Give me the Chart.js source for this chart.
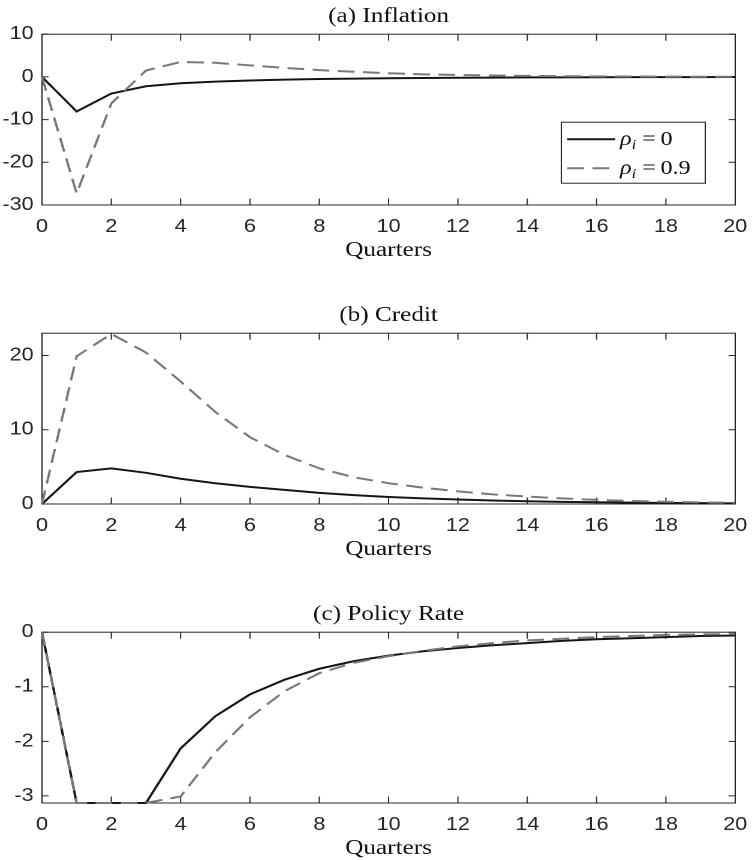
<!DOCTYPE html>
<html>
<head>
<meta charset="utf-8">
<script src="https://cdn.jsdelivr.net/npm/chart.js@4.4.1/dist/chart.umd.min.js"></script>
<style>
    body { margin: 0; background: #fff; width: 752px; height: 860px; overflow: hidden; position: relative; }
    canvas { position: absolute; left: 0; }
</style>
</head>
<body>
<!-- the canvases are drawn 627 wide and stretched to 752 (the figure is wider than tall) -->
<canvas id="inflation" width="627" height="266" style="top:0px;width:752px;height:266px"></canvas>
<canvas id="credit" width="627" height="266" style="top:299px;width:752px;height:266px"></canvas>
<canvas id="policy" width="627" height="266" style="top:598px;width:752px;height:266px"></canvas>
<script>
// 四半期
const quarters = [0, 1, 2, 3, 4, 5, 6, 7, 8, 9, 10, 11, 12, 13, 14, 15, 16, 17, 18, 19, 20];
const xTickValues = [0, 2, 4, 6, 8, 10, 12, 14, 16, 18, 20];

// (a) Inflation
const inflationRho0 = [0, -8.1, -3.9, -2.2, -1.5, -1.1, -0.85, -0.65, -0.5, -0.4, -0.32, -0.25, -0.2, -0.16, -0.12, -0.1, -0.08, -0.06, -0.05, -0.04, -0.03];
const inflationRho09 = [0, -27.3, -6.2, 1.5, 3.5, 3.3, 2.7, 2.1, 1.6, 1.2, 0.85, 0.6, 0.45, 0.33, 0.24, 0.17, 0.12, 0.09, 0.06, 0.04, 0.03];
const inflationTicks = [-30, -20, -10, 0, 10];

// (b) Credit
const creditRho0 = [0, 4.3, 4.8, 4.2, 3.4, 2.8, 2.3, 1.9, 1.5, 1.2, 0.95, 0.75, 0.6, 0.47, 0.37, 0.29, 0.23, 0.18, 0.14, 0.11, 0.09];
const creditRho09 = [0, 19.9, 22.9, 20.4, 16.5, 12.4, 9.0, 6.6, 4.8, 3.6, 2.8, 2.2, 1.7, 1.3, 1.0, 0.75, 0.55, 0.4, 0.3, 0.22, 0.16];
const creditTicks = [0, 10, 20];

// (c) Policy Rate
const policyRho0 = [0, -3.13, -3.13, -3.13, -2.13, -1.54, -1.14, -0.87, -0.67, -0.53, -0.43, -0.35, -0.29, -0.24, -0.2, -0.16, -0.13, -0.11, -0.09, -0.07, -0.06];
const policyRho09 = [0, -3.13, -3.13, -3.13, -3.01, -2.2, -1.56, -1.08, -0.75, -0.56, -0.44, -0.34, -0.26, -0.2, -0.15, -0.12, -0.09, -0.07, -0.05, -0.04, -0.03];
const policyTicks = [-3, -2, -1, 0];

const legendValues = ['0', '0.9'];

const SERIF = '"Liberation Serif", "Times New Roman", serif';
const SANS = '"Liberation Sans", Arial, sans-serif';
const AXIS_COLOR = '#262626';

Chart.defaults.font.family = SANS;

// 枠線と内向きの目盛り（上下左右）
const framePlugin = {
    id: 'frame',
    beforeDatasetsDraw(chart) {
        const { ctx, chartArea: a, scales: { x, y } } = chart;
        ctx.save();
        ctx.strokeStyle = AXIS_COLOR;
        ctx.lineWidth = 1;
        ctx.beginPath();
        x.ticks.forEach(t => {
            const px = x.getPixelForValue(t.value);
            ctx.moveTo(px, a.bottom);
            ctx.lineTo(px, a.bottom - 6.5);
            ctx.moveTo(px, a.top);
            ctx.lineTo(px, a.top + 6.5);
        });
        y.ticks.forEach(t => {
            const py = y.getPixelForValue(t.value);
            ctx.moveTo(a.left, py);
            ctx.lineTo(a.left + 5.5, py);
            ctx.moveTo(a.right, py);
            ctx.lineTo(a.right - 5.5, py);
        });
        ctx.stroke();
        ctx.strokeRect(a.left, a.top, a.right - a.left, a.bottom - a.top);
        ctx.restore();
    }
};

// グラフ内の凡例（ρ_i = ...）
const innerLegendPlugin = {
    id: 'innerLegend',
    afterDraw(chart) {
        const { ctx, chartArea: a } = chart;
        const right = a.right - 25;
        const left = right - 120;
        const top = a.top + 88;
        const bottom = top + 61;

        ctx.save();
        ctx.fillStyle = '#fff';
        ctx.fillRect(left, top, right - left, bottom - top);
        ctx.strokeStyle = AXIS_COLOR;
        ctx.lineWidth = 1;
        ctx.strokeRect(left, top, right - left, bottom - top);

        chart.data.datasets.forEach((ds, i) => {
            const rowY = top + 17 + i * 29;
            ctx.beginPath();
            ctx.strokeStyle = ds.borderColor;
            ctx.lineWidth = ds.borderWidth;
            ctx.setLineDash(ds.borderDash || []);
            ctx.moveTo(left + 5, rowY);
            ctx.lineTo(left + 45, rowY);
            ctx.stroke();
            ctx.setLineDash([]);

            ctx.fillStyle = '#111';
            ctx.textBaseline = 'alphabetic';
            const base = rowY + 6;
            let tx = left + 49;
            ctx.font = 'italic 20px ' + SERIF;
            ctx.fillText('ρ', tx, base);
            tx += ctx.measureText('ρ').width;
            ctx.font = 'italic 14px ' + SERIF;
            ctx.fillText('i', tx, base + 4);
            tx += ctx.measureText('i').width + 5;
            ctx.font = '20px ' + SERIF;
            ctx.fillText('=', tx, base);
            tx += ctx.measureText('=').width + 4;
            ctx.fillText(legendValues[i], tx, base);
        });
        ctx.restore();
    }
};

function makePanel(canvasId, title, yMin, yMax, yTicks, rho0, rho09, withLegend) {
    const ctx = document.getElementById(canvasId).getContext('2d');
    const plugins = [framePlugin];
    if (withLegend) plugins.push(innerLegendPlugin);

    return new Chart(ctx, {
        type: 'line',
        data: {
            datasets: [
                {
                    label: 'ρi = 0',
                    data: quarters.map((q, i) => ({ x: q, y: rho0[i] })),
                    borderColor: '#151515',
                    borderWidth: 2,
                    pointRadius: 0,
                    tension: 0,
                    clip: false,
                    order: 2
                },
                {
                    label: 'ρi = 0.9',
                    data: quarters.map((q, i) => ({ x: q, y: rho09[i] })),
                    borderColor: '#787878',
                    borderWidth: 2,
                    borderDash: [14, 7],
                    pointRadius: 0,
                    tension: 0,
                    clip: false,
                    order: 1
                }
            ]
        },
        plugins: plugins,
        options: {
            responsive: false,
            animation: false,
            devicePixelRatio: 2,
            layout: { padding: { left: 0, right: 14, top: 0, bottom: 0 } },
            scales: {
                x: {
                    type: 'linear',
                    min: 0,
                    max: 20,
                    grid: { display: false, drawTicks: false },
                    border: { display: false },
                    afterBuildTicks: scale => { scale.ticks = xTickValues.map(v => ({ value: v })); },
                    afterFit: scale => {
                        scale.height = 61;
                        scale.paddingLeft = 0;
                        scale.paddingRight = 0;
                    },
                    ticks: {
                        padding: 11,
                        color: AXIS_COLOR,
                        font: { size: 18 },
                        maxRotation: 0,
                        callback: v => String(v)
                    },
                    title: {
                        display: true,
                        text: 'Quarters',
                        color: '#111',
                        font: { family: SERIF, size: 21 },
                        padding: { top: 2, bottom: 3 }
                    }
                },
                y: {
                    type: 'linear',
                    min: yMin,
                    max: yMax,
                    grid: { display: false, drawTicks: false },
                    border: { display: false },
                    afterBuildTicks: scale => { scale.ticks = yTicks.map(v => ({ value: v })); },
                    afterFit: scale => { scale.width = 35; },
                    ticks: {
                        padding: 7,
                        color: AXIS_COLOR,
                        font: { size: 18 },
                        callback: v => String(v)
                    }
                }
            },
            plugins: {
                legend: { display: false },
                tooltip: { enabled: false },
                title: {
                    display: true,
                    fullSize: false,
                    text: title,
                    color: '#111',
                    font: { family: SERIF, size: 21, weight: 'normal' },
                    padding: { top: 4, bottom: 5 }
                }
            }
        }
    });
}

makePanel('inflation', '(a) Inflation', -30, 10, inflationTicks, inflationRho0, inflationRho09, true);
makePanel('credit', '(b) Credit', 0, 23, creditTicks, creditRho0, creditRho09, false);
makePanel('policy', '(c) Policy Rate', -3.13, 0, policyTicks, policyRho0, policyRho09, false);
</script>
</body>
</html>
